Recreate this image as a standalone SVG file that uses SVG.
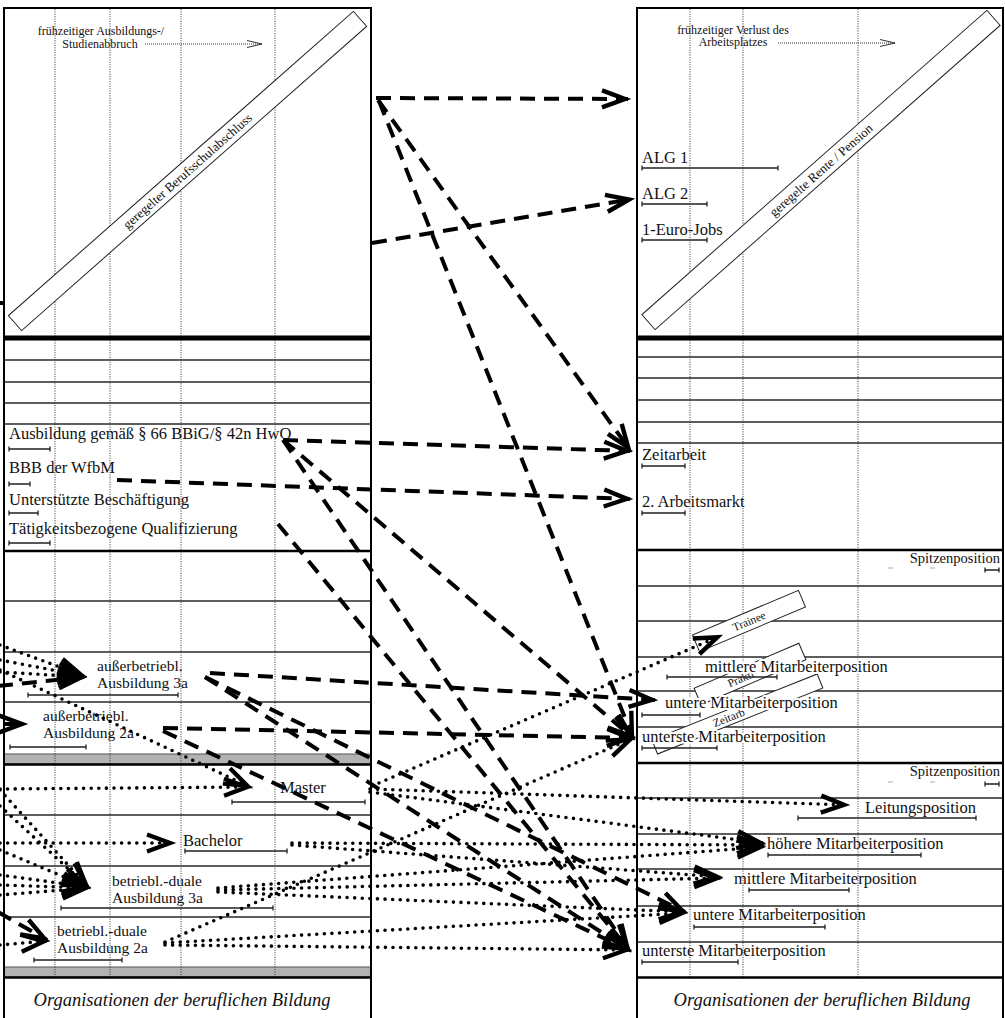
<svg xmlns="http://www.w3.org/2000/svg" width="1005" height="1018" viewBox="0 0 1005 1018">
<defs>
<style>
.frame{fill:none;stroke:#000;stroke-width:2}
.thick{stroke:#000;stroke-width:5}
.sec{stroke:#000;stroke-width:2.5}
.hl{stroke:#2a2a2a;stroke-width:1.3}
.vl{stroke:#333;stroke-width:1;stroke-dasharray:1 1.4}
.gray{fill:#b2b2b2;stroke:#555;stroke-width:1}
.bar{fill:none;stroke:#222;stroke-width:1.3}
.lb{font-family:"Liberation Serif","Times New Roman",serif;font-size:16.5px;fill:#111}
.l2{font-family:"Liberation Serif","Times New Roman",serif;font-size:15.5px;fill:#111}
.halo{stroke:#fff;stroke-width:4;stroke-linejoin:round;paint-order:stroke}
.sm{font-family:"Liberation Serif","Times New Roman",serif;font-size:12px;fill:#111}
.bd{font-family:"Liberation Serif","Times New Roman",serif;font-size:13px;fill:#111}
.tn{font-family:"Liberation Serif","Times New Roman",serif;font-size:11.5px;fill:#111}
.sp{font-family:"Liberation Serif","Times New Roman",serif;font-size:14.5px;fill:#111}
.org{font-family:"Liberation Serif","Times New Roman",serif;font-size:18.5px;font-style:italic;fill:#111}
.band{fill:#fff;stroke:#222;stroke-width:1}
.d{fill:none;stroke:#000;stroke-width:4;stroke-dasharray:15 9;marker-end:url(#ah)}
.dn{fill:none;stroke:#000;stroke-width:4}
.p{fill:none;stroke:#000;stroke-width:3.6;stroke-linecap:round;stroke-dasharray:0 7.6;marker-end:url(#ah)}
.fine{fill:none;stroke:#333;stroke-width:1;stroke-dasharray:1 1;marker-end:url(#ahs)}
.tick{stroke:#aaa;stroke-width:1}
</style>
<marker id="ah" markerUnits="userSpaceOnUse" viewBox="-32 -16 40 32" markerWidth="40" markerHeight="32" refX="0" refY="0" orient="auto" overflow="visible">
<path d="M-26,-8.5 L-3,0 L-26,8.5" fill="none" stroke="#000" stroke-width="4.4"/>
</marker>
<marker id="ahs" markerUnits="userSpaceOnUse" viewBox="-18 -6 20 12" markerWidth="20" markerHeight="12" refX="0" refY="0" orient="auto" overflow="visible">
<path d="M-15,-3.5 L0,0 L-15,3.5" fill="none" stroke="#333" stroke-width="1"/>
</marker>
</defs>
<rect width="1005" height="1018" fill="#fff"/>

<g id="left-panel">
<path class="hl" d="M4,360H371M4,382H371M4,403H371M4,424H371M4,601H371M4,652H371M4,702H371M4,815H371M4,866H371M4,917H371"/>
<rect class="gray" x="4" y="754" width="367" height="10"/>
<rect class="gray" x="4" y="967" width="367" height="10"/>
<path class="vl" d="M55,9V977M110,9V977M181,9V977M275,9V977"/>
<path class="thick" d="M4,338H371"/>
<path class="sec" d="M4,551H371M4,764.5H371M4,977.5H371"/>
<rect x="4" y="8" width="367" height="1020" class="frame"/>
</g>

<g id="right-panel">
<path class="hl" d="M637,357H1003M637,378H1003M637,400H1003M637,422H1003M637,443H1003M637,586H1003M637,621H1003M637,657H1003M637,691H1003M637,727H1003M637,798H1003M637,834H1003M637,869H1003M637,906H1003M637,942H1003"/>
<path class="vl" d="M690,9V977M743,9V977M858,9V977"/>
<path class="thick" d="M637,338H1003"/>
<path class="sec" d="M637,550H1003M637,763H1003M637,977.5H1003"/>
<rect x="637" y="8" width="366" height="1020" class="frame"/>
</g>

<!-- left nodes -->
<g id="n-abbruch">
<text class="sm" x="101" y="35" text-anchor="middle">frühzeitiger Ausbildungs-/</text>
<text class="sm" x="100" y="47.5" text-anchor="middle">Studienabbruch</text>
<path class="fine" d="M145,44H262"/>
</g>
<g id="n-berufsschulabschluss" transform="translate(187.5,171) rotate(-41.4)">
<rect class="band" x="-230" y="-10" width="460" height="20"/>
<text class="bd" x="0" y="4.5" text-anchor="middle">geregelter Berufsschulabschluss</text>
</g>
<g id="n-ausbildung66">
<text class="lb" x="9" y="439">Ausbildung gemäß § 66 BBiG/§ 42n HwO</text>
<path class="bar" d="M9,449H50M9,446.5V451.5M50,446.5V451.5"/>
</g>
<g id="n-bbb">
<text class="lb" x="9" y="473">BBB der WfbM</text>
<path class="bar" d="M9,484H30M9,481.5V486.5M30,481.5V486.5"/>
</g>
<g id="n-ub">
<text class="lb" x="9" y="505">Unterstützte Beschäftigung</text>
<path class="bar" d="M9,513H38M9,510.5V515.5M38,510.5V515.5"/>
</g>
<g id="n-tq">
<text class="lb" x="9" y="534">Tätigkeitsbezogene Qualifizierung</text>
<path class="bar" d="M9,543H50M9,540.5V545.5M50,540.5V545.5"/>
</g>
<g id="n-ausserbetr3a">
<text class="l2" x="97" y="671">außerbetriebl.</text>
<text class="l2" x="97" y="688">Ausbildung 3a</text>
<path class="bar" d="M28,695H178M28,692.5V697.5M178,692.5V697.5"/>
</g>
<g id="n-ausserbetr2a">
<text class="l2" x="43" y="721">außerbetriebl.</text>
<text class="l2" x="43" y="738">Ausbildung 2a</text>
<path class="bar" d="M10,747H86M10,744.5V749.5M86,744.5V749.5"/>
</g>
<g id="n-master">
<text class="lb" x="280" y="793">Master</text>
<path class="bar" d="M232,802H365M232,799.5V804.5M365,799.5V804.5"/>
</g>
<g id="n-bachelor">
<text class="lb" x="183" y="846">Bachelor</text>
<path class="bar" d="M185,851H287M185,848.5V853.5M287,848.5V853.5"/>
</g>
<g id="n-betr3a">
<text class="l2" x="112" y="886">betriebl.-duale</text>
<text class="l2" x="112" y="903">Ausbildung 3a</text>
<path class="bar" d="M61,908H273M61,905.5V910.5M273,905.5V910.5"/>
</g>
<g id="n-betr2a">
<text class="l2" x="57" y="936">betriebl.-duale</text>
<text class="l2" x="57" y="953">Ausbildung 2a</text>
<path class="bar" d="M34,960H122M34,957.5V962.5M122,957.5V962.5"/>
</g>
<g id="n-org-left">
<text class="org" x="182" y="1006" text-anchor="middle">Organisationen der beruflichen Bildung</text>
</g>

<!-- right nodes -->
<g id="n-verlust">
<text class="sm" x="733" y="33.5" text-anchor="middle">frühzeitiger Verlust des</text>
<text class="sm" x="733" y="46" text-anchor="middle">Arbeitsplatzes</text>
<path class="fine" d="M778,43H895"/>
</g>
<g id="n-rente" transform="translate(821,170) rotate(-41.4)">
<rect class="band" x="-230" y="-10" width="460" height="20"/>
<text class="bd" x="0" y="4.5" text-anchor="middle">geregelte Rente / Pension</text>
</g>
<g id="n-alg1">
<text class="lb" x="642" y="163">ALG 1</text>
<path class="bar" d="M642,168H778M642,165.5V170.5M778,165.5V170.5"/>
</g>
<g id="n-alg2">
<text class="lb" x="642" y="199">ALG 2</text>
<path class="bar" d="M642,204H707M642,201.5V206.5M707,201.5V206.5"/>
</g>
<g id="n-eurojobs">
<text class="lb" x="642" y="235">1-Euro-Jobs</text>
<path class="bar" d="M642,240H707M642,237.5V242.5M707,237.5V242.5"/>
</g>
<g id="n-zeitarbeit">
<text class="lb" x="642" y="460">Zeitarbeit</text>
<path class="bar" d="M642,466H685M642,463.5V468.5M685,463.5V468.5"/>
</g>
<g id="n-arbeitsmarkt2">
<text class="lb" x="642" y="507">2. Arbeitsmarkt</text>
<path class="bar" d="M642,513H685M642,510.5V515.5M685,510.5V515.5"/>
</g>
<g id="n-spitze1">
<text class="sp" x="1000" y="563" text-anchor="end">Spitzenposition</text>
<path class="bar" d="M985,570H999M985,567.5V572.5M999,567.5V572.5"/>
<path class="tick" d="M888,568H893M930,568H935"/>
</g>
<g id="n-trainee" transform="translate(749,621) rotate(-22.9)">
<rect class="band" x="-57.5" y="-9" width="115" height="18"/>
<text class="tn" x="0" y="4" text-anchor="middle">Trainee</text>
</g>
<g id="n-praktikum" transform="translate(750,674) rotate(-23.2)">
<rect class="band" x="-57" y="-9" width="114" height="18"/>
<text class="tn" x="-24" y="4.5">Prakti</text>
</g>
<g id="n-zeitarbeit-band" transform="translate(737.4,714) rotate(-21.8)">
<rect class="band" x="-89" y="-7.5" width="178" height="15"/>
<text class="tn" x="-26" y="4">Zeitarb</text>
</g>
<g id="n-mittlere1">
<text class="lb halo" x="705" y="672">mittlere Mitarbeiterposition</text>
<path class="bar" d="M667,677H777M667,674.5V679.5M777,674.5V679.5"/>
</g>
<g id="n-untere1">
<text class="lb halo" x="665" y="708">untere Mitarbeiterposition</text>
<path class="bar" d="M642,715H700M642,712.5V717.5M700,712.5V717.5"/>
</g>
<g id="n-unterste1">
<text class="lb halo" x="642" y="742">unterste Mitarbeiterposition</text>
<path class="bar" d="M642,748H717M642,745.5V750.5M717,745.5V750.5"/>
</g>
<g id="n-spitze2">
<text class="sp" x="1000" y="776" text-anchor="end">Spitzenposition</text>
<path class="bar" d="M985,784H999M985,781.5V786.5M999,781.5V786.5"/>
<path class="tick" d="M888,782H893M930,782H935"/>
</g>
<g id="n-leitung">
<text class="lb" x="865" y="813">Leitungsposition</text>
<path class="bar" d="M798,818H976M798,815.5V820.5M976,815.5V820.5"/>
</g>
<g id="n-hoehere2">
<text class="lb" x="767" y="849">höhere Mitarbeiterposition</text>
<path class="bar" d="M768,855H921M768,852.5V857.5M921,852.5V857.5"/>
</g>
<g id="n-mittlere2">
<text class="lb" x="734" y="884">mittlere Mitarbeiterposition</text>
<path class="bar" d="M749,890H849M749,887.5V892.5M849,887.5V892.5"/>
</g>
<g id="n-untere2">
<text class="lb" x="693" y="920">untere Mitarbeiterposition</text>
<path class="bar" d="M694,927H825M694,924.5V929.5M825,924.5V929.5"/>
</g>
<g id="n-unterste2">
<text class="lb" x="642" y="956">unterste Mitarbeiterposition</text>
<path class="bar" d="M642,962H738M642,959.5V964.5M738,959.5V964.5"/>
</g>
<g id="n-org-right">
<text class="org" x="822" y="1006" text-anchor="middle">Organisationen der beruflichen Bildung</text>
</g>

<g id="connectors">
<path class="dn" d="M0,303H5"/>
<path class="d" d="M376,98L628,99"/>
<path class="d" d="M372,243L632,199"/>
<path class="d" d="M378,100L630,450"/>
<path class="d" d="M283,440L630,451"/>
<path class="d" d="M117,480L630,499"/>
<path class="d" d="M379,101L633,738"/>
<path class="d" d="M283,440L633,738"/>
<path class="d" d="M283,440L629,950"/>
<path class="d" d="M278,524L629,950"/>
<path class="d" d="M210,673L655,700"/>
<path class="d" d="M205,677L685,912"/>
<path class="d" d="M205,677L629,950"/>
<path class="d" d="M163,728L633,738"/>
<path class="d" d="M163,731L629,950"/>
<path class="d" d="M-2,686L84,677"/>
<path class="d" d="M-2,912L47,940"/>
<path class="d" d="M-20,724L25,724"/>

<path class="p" d="M0,645L84,676"/>
<path class="p" d="M0,660L84,676"/>
<path class="p" d="M0,672L84,677"/>
<path class="p" d="M0,670L250,787"/>
<path class="p" d="M0,789L250,787"/>
<path class="p" d="M0,843L173,843"/>
<path class="p" d="M0,790L88,887"/>
<path class="p" d="M0,806L88,887"/>
<path class="p" d="M0,850L88,887"/>
<path class="p" d="M0,875L88,887"/>
<path class="p" d="M0,885L88,888"/>
<path class="p" d="M0,895L88,888"/>
<path class="p" d="M0,945L47,941"/>
<path class="p" d="M370,789L847,805"/>
<path class="p" d="M370,792L763,843"/>
<path class="p" d="M372,786L720,636"/>
<path class="p" d="M292,843L763,845"/>
<path class="p" d="M292,845L720,877"/>
<path class="p" d="M218,888L763,847"/>
<path class="p" d="M218,890L720,878"/>
<path class="p" d="M218,892L685,912"/>
<path class="p" d="M165,943L685,913"/>
<path class="p" d="M165,945L629,950"/>
<path class="p" d="M165,942L633,738"/>
</g>
</svg>
